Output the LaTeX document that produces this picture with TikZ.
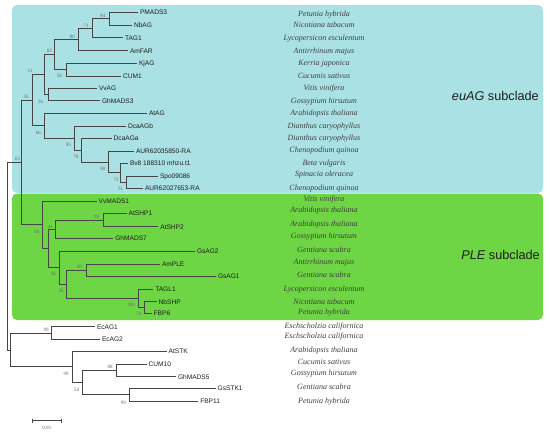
\documentclass[tikz,border=0pt]{standalone}
\usepackage{fontspec}
\setmainfont{Liberation Serif}
\setsansfont{Liberation Sans}
\definecolor{bgblue}{RGB}{170,225,228}
\definecolor{bggreen}{RGB}{110,213,68}
\definecolor{treeline}{RGB}{70,70,70}
\definecolor{txt}{RGB}{30,30,30}
\definecolor{boot}{RGB}{105,105,105}
\begin{document}
\begin{tikzpicture}[x=1pt,y=-1pt,
  branch/.style={draw=treeline, line width=0.7pt},
  gene/.style={anchor=west, inner sep=0pt, font=\sffamily\fontsize{6.6}{7}\selectfont, text=txt, text height=4.7pt, text depth=0pt},
  species/.style={anchor=center, inner sep=0pt, font=\itshape\fontsize{8}{9}\selectfont, text=txt!85, text height=5pt, text depth=0pt},
  bootlab/.style={anchor=center, inner sep=0pt, font=\fontsize{5}{5}\selectfont, text=boot},
  clade/.style={anchor=east, inner sep=0pt, font=\sffamily\fontsize{12.7}{14}\selectfont, text=txt}]
\useasboundingbox (0,0) rectangle (550,432);
% backgrounds
\fill[bgblue, rounded corners=5pt] (12,5) rectangle (543,193);
\fill[bggreen, rounded corners=5pt] (12,193.5) rectangle (543,320);
% leaves
\foreach \n/\x/\y/\t in {
 PMADS3/138/12.3/PMADS3, NbAG/132/25/NbAG, TAG1/123/37.7/TAG1, AmFAR/128/50.7/AmFAR,
 KjAG/137/63.3/KjAG, CUM1/121/76/CUM1, VvAG/97/88.3/VvAG, GhMADS3/100/100.7/GhMADS3,
 AtAG/147/113.3/AtAG, DcaAGb/126/126/DcaAGb, DcaAGa/111.7/138.3/DcaAGa,
 AURa/134/151/AUR62035850-RA, Bv8/128/163.3/Bv8 188310 mhzu.t1, Spo/158/176/Spo09086,
 AURb/143/188.3/AUR62027653-RA,
 VvMADS1/96.7/201/VvMADS1, AtSHP1/126.7/213.3/AtSHP1, AtSHP2/158.3/226.7/AtSHP2,
 GhMADS7/113.3/238.3/GhMADS7, GsAG2/195/251/GsAG2, AmPLE/160/264/AmPLE,
 GsAG1/216/276/GsAG1, TAGL1/153.3/289/TAGL1, NbSHP/156.7/301.7/NbSHP, FBP6/151.7/313.3/FBP6,
 EcAG1/95/326.7/EcAG1, EcAG2/100/339.3/EcAG2, AtSTK/166.7/351/AtSTK, CUM10/146.7/364/CUM10,
 GhMADS5/176/376.7/GhMADS5, GsSTK1/215.7/388.3/GsSTK1, FBP11/198.3/401/FBP11}
{
  \coordinate (t\n) at (\x,\y);
  \node[gene] (g\n) at ([xshift=1.8pt]t\n) {\t};
}
% internal nodes
\foreach \n/\x/\y in {
 A/109.5/18.7, B/92.5/28.5, C/78.5/39.6, D/66/69.7, E/54.3/54.6, F/48.3/94.5, G/44.3/74.5,
 P/126/182.2, N/120/172.7, M/108.3/161.9, L/81.7/150.1, K/74/138, H/44.3/125.7, I/32.3/100.1,
 Q/103.3/220, R/55/229.2, S/86/270, T/144/307.5, U/138.3/298.3, V/66.7/284.1, W/59.3/267.6,
 X/48.3/248.4, Y/42.7/224.7, Z/21.7/162.4,
 Ec/51.7/333, a/116/370.3, b/129.3/394.7, c/82.7/382.5, d/72.7/366.7, O/10/349.9, Root/7.3/256.2}
{ \coordinate (n\n) at (\x,\y); }
% branches
\foreach \p/\c in {
 A/tPMADS3, A/tNbAG, B/nA, B/tTAG1, C/nB, C/tAmFAR, D/tKjAG, D/tCUM1, E/nC, E/nD,
 F/tVvAG, F/tGhMADS3, G/nE, G/nF, P/tSpo, P/tAURb, N/tBv8, N/nP, M/tAURa, M/nN,
 L/tDcaAGa, L/nM, K/tDcaAGb, K/nL, H/tAtAG, H/nK, I/nG, I/nH,
 Q/tAtSHP1, Q/tAtSHP2, R/nQ, R/tGhMADS7, S/tAmPLE, S/tGsAG1, T/tNbSHP, T/tFBP6,
 U/tTAGL1, U/nT, V/nS, V/nU, W/tGsAG2, W/nV, X/nR, X/nW, Y/tVvMADS1, Y/nX, Z/nI, Z/nY,
 Ec/tEcAG1, Ec/tEcAG2, a/tCUM10, a/tGhMADS5, b/tGsSTK1, b/tFBP11, c/na, c/nb,
 d/tAtSTK, d/nc, O/nEc, O/nd, Root/nZ, Root/nO}
{ \draw[branch] (n\p) |- (\c); }
% bootstrap values
\foreach \x/\y/\v [count=\i] in {
 102.7/16/94, 86/25.7/71, 72.5/37.3/90, 49.3/50.7/83, 30/71/51, 59.3/76/58, 26/96.7/36,
 40.7/102.3/36, 38.3/133/66, 68.3/145/95, 76/156.7/79, 102.7/169.3/98, 116/180/73,
 120.7/189/51, 17.3/159.3/63,
 96.7/216.7/99, 50/226.7/41, 36.7/231.7/68, 79.3/266.7/60, 53.3/274/36, 61/291/36,
 131/305/100, 139/314/74,
 46/330/99, 110/366.7/88, 66/374.3/99, 76.7/390/54, 123.3/402.7/99}
{ \node[bootlab] (bs\i) at (\x,\y) {\v}; }
% species
\foreach \y/\t [count=\i] in {
 14/Petunia hybrida, 25/Nicotiana tabacum, 37.7/Lycopersicon esculentum, 50.7/Antirrhinum majus,
 63.3/Kerria japonica, 75.7/Cucumis sativus, 88.3/Vitis vinifera, 100.7/Gossypium hirsutum,
 113.3/Arabidopsis thaliana, 126/Dianthus caryophyllus, 138/Dianthus caryophyllus,
 150/Chenopodium quinoa, 162.7/Beta vulgaris, 174.3/Spinacia oleracea, 188.3/Chenopodium quinoa,
 199.3/Vitis vinifera, 210/Arabidopsis thaliana, 224.3/Arabidopsis thaliana, 236/Gossypium hirsutum,
 250/Gentiana scabra, 262.3/Antirrhinum majus, 275/Gentiana scabra, 289/Lycopersicon esculentum,
 301.7/Nicotiana tabacum, 312.3/Petunia hybrida, 325.7/Eschscholzia californica,
 335.7/Eschscholzia californica, 350/Arabidopsis thaliana, 361.7/Cucumis sativus,
 373.3/Gossypium hirsutum, 387.3/Gentiana scabra, 400.7/Petunia hybrida}
{ \node[species] (sp\i) at (324,\y) {\t}; }
% subclade labels
\node[clade] (euag) at (539,95.7) {\textit{euAG} subclade};
\node[clade] (ple) at (540,255) {\textit{PLE} subclade};
% scale bar
\coordinate (sbL) at (32.7,420.7);
\coordinate (sbR) at (61.7,420.7);
\draw[branch, line width=0.6pt] (sbL) -- (sbR);
\draw[branch, line width=0.6pt] ([yshift=2pt]sbL) -- ([yshift=-2pt]sbL);
\draw[branch, line width=0.6pt] ([yshift=2pt]sbR) -- ([yshift=-2pt]sbR);
\node[bootlab] (sblab) at (46.7,427.5) {0.05};
\end{tikzpicture}
\end{document}
